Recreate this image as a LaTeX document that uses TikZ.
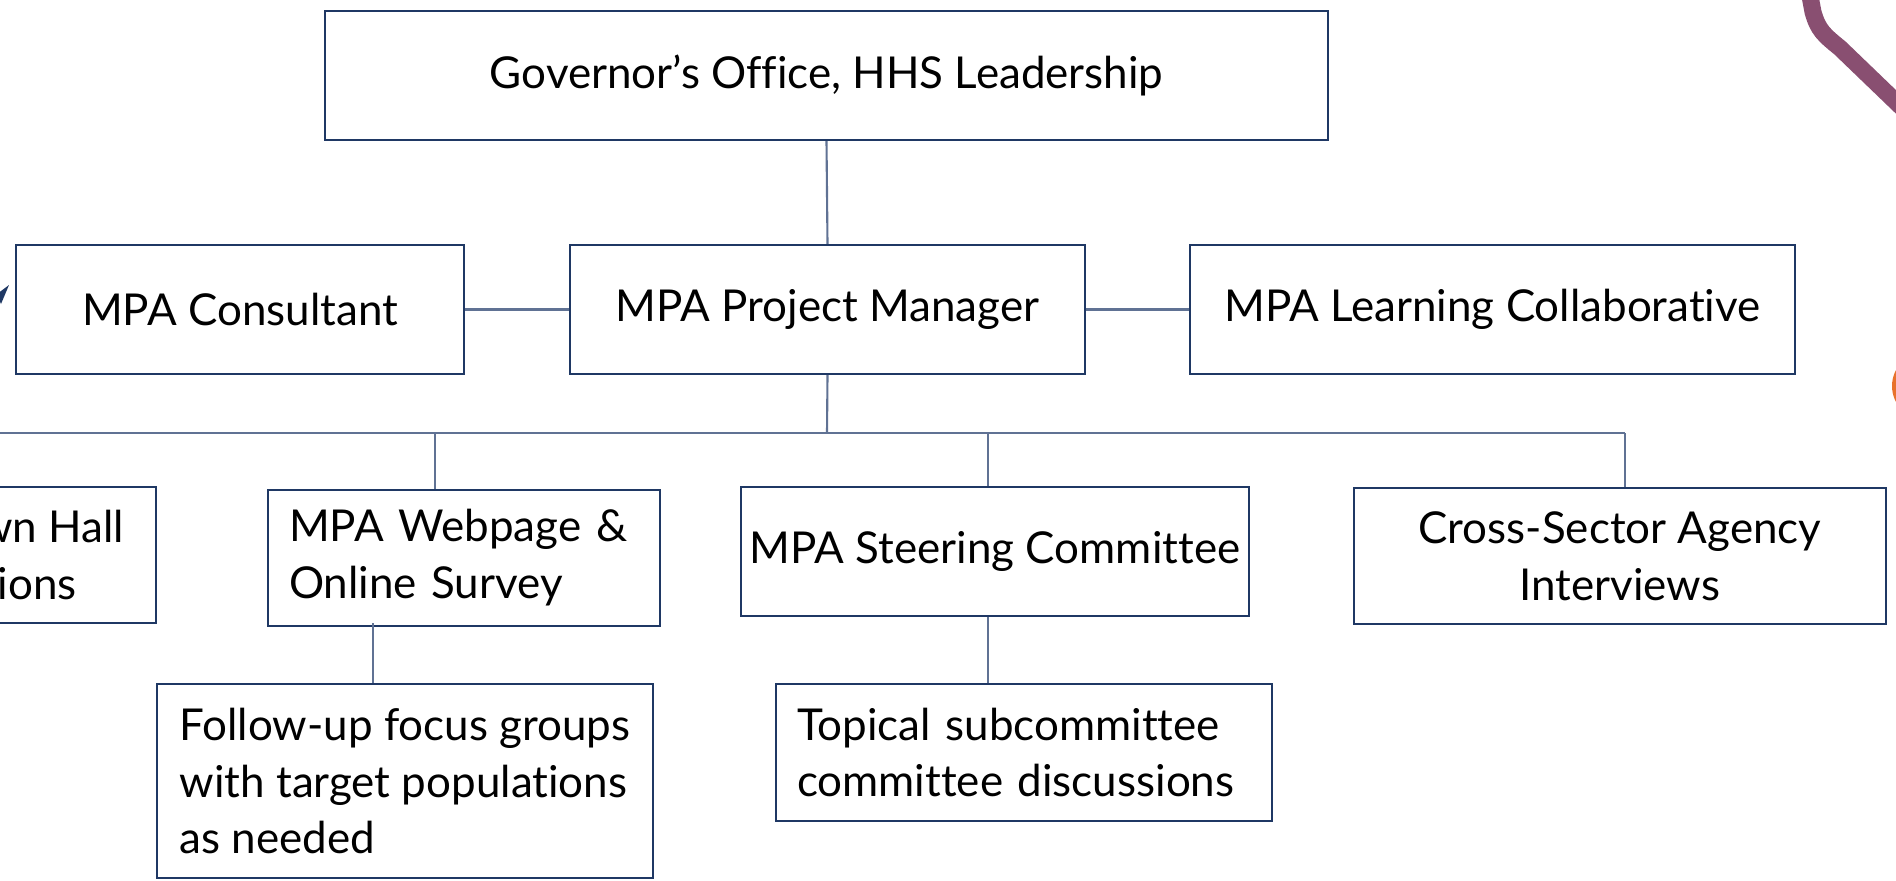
\documentclass[tikz,border=0pt]{standalone}
\usepackage{fontspec}
\setmainfont{Lato}[Ligatures=NoCommon]
\definecolor{boxline}{RGB}{31,56,100}
\definecolor{linkline}{RGB}{96,114,148}
\definecolor{swoosh}{RGB}{137,79,113}
\definecolor{dotorange}{RGB}{232,114,44}
\tikzset{
  orgbox/.style={draw=boxline, line width=0.7pt, minimum height=1.29cm,
    inner xsep=0.21cm, font=\fontsize{12.5}{16.2}\selectfont},
  leftbox/.style={orgbox, align=left},
  midbox/.style={orgbox, align=center},
  link/.style={draw=linkline, line width=0.6pt}
}
\begin{document}
\begin{tikzpicture}
  \useasboundingbox (0,0) rectangle (18.96,-8.80);
  % top rows
  \node[midbox, minimum width=10.03cm] (gov) at (8.265,-0.755) {Governor’s Office, HHS Leadership};
  \node[midbox, minimum width=4.48cm] (consult) at (2.40,-3.095) {MPA Consultant};
  \node[midbox, minimum width=5.15cm] (pm) at (8.275,-3.095) {MPA Project Manager};
  \node[midbox, minimum width=6.05cm] (learn) at (14.925,-3.095) {MPA Learning Collaborative};
  % third row
  \node[midbox, minimum height=1.36cm, inner xsep=0.32cm, anchor=east] (townhall) at (1.57,-5.55) {Public Town Hall\\Discussions};
  \node[leftbox, minimum height=1.36cm, text width=3.50cm] (web) at (4.64,-5.58) {MPA Webpage \&\\Online Survey};
  \node[midbox, minimum width=5.08cm, inner xsep=0.04cm] (steer) at (9.95,-5.515) {MPA Steering Committee};
  \node[midbox, minimum height=1.36cm, minimum width=5.32cm] (cross) at (16.20,-5.56) {Cross-Sector Agency\\Interviews};
  % fourth row
  \node[leftbox, minimum height=1.94cm, minimum width=4.96cm, inner xsep=0.1cm] (follow) at (4.05,-7.81) {Follow-up focus groups\\with target populations\\as needed};
  \node[leftbox, minimum height=1.37cm, text width=4.54cm] (topical) at (10.24,-7.525) {Topical subcommittee\\committee discussions};
  % junctions on the bus
  \coordinate (jpm) at (8.27,-4.33);
  \coordinate (jtown) at (townhall.north |- jpm);
  \coordinate (jweb) at (4.35,-4.33);
  \coordinate (jsteer) at (9.88,-4.33);
  \coordinate (jcross) at (16.25,-4.33);
  \coordinate (jfollow) at (3.73,-6.23);
  % connectors
  \draw[link] (gov.south) -- (pm.north);
  \draw[link] (consult.east) -- (pm.west);
  \draw[link] (pm.east) -- (learn.west);
  \draw[link] (pm.south) -- (jpm);
  \draw[link] (jtown) -- (jcross);
  \draw[link] (jtown) -- (townhall.north);
  \draw[link] (jweb) -- (jweb |- web.north);
  \draw[link] (jsteer) -- (jsteer |- steer.north);
  \draw[link] (jcross) -- (jcross |- cross.north);
  \draw[link] (jfollow) -- (jfollow |- follow.north);
  \draw[link] (jsteer |- steer.south) -- (jsteer |- topical.north);
  % slide decorations
  \fill[boxline] (0.09,-2.85) -- (-0.03,-2.94) -- (0.01,-3.04) -- cycle;
  \draw[swoosh, line width=0.17cm] (18.07,0.2) -- (18.13,-0.12)
    .. controls (18.18,-0.30) and (18.24,-0.35) .. (18.40,-0.48) -- (19.20,-1.25);
  \fill[dotorange] (19.26,-3.86) circle (0.34);
\end{tikzpicture}
\end{document}
